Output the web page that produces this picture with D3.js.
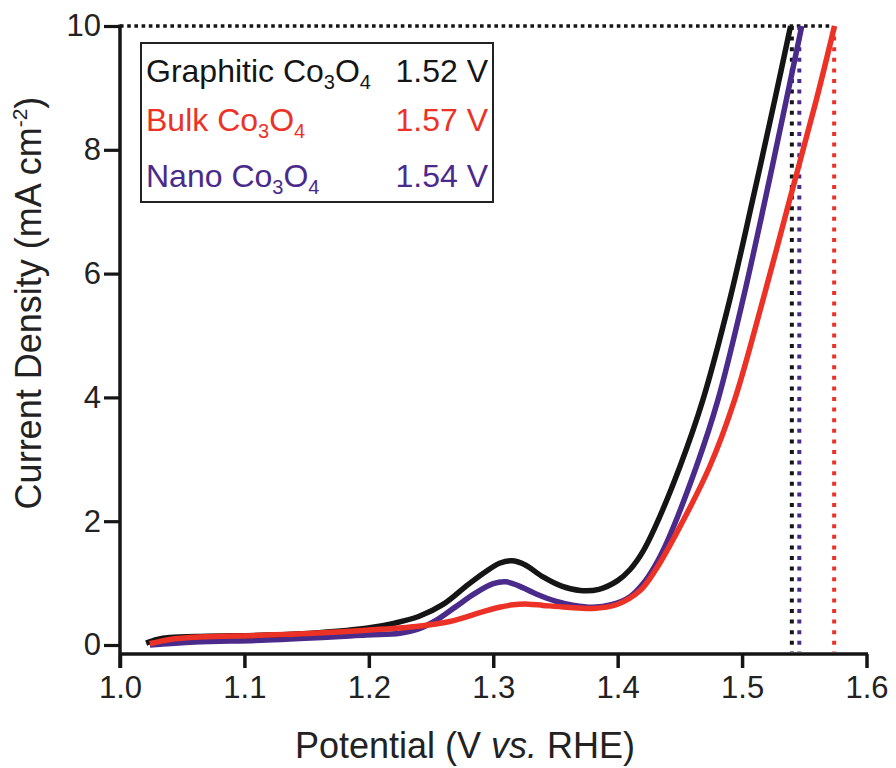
<!DOCTYPE html>
<html>
<head>
<meta charset="utf-8">
<script src="https://cdn.jsdelivr.net/npm/d3@7"></script>
<style>
  html, body { margin: 0; padding: 0; background: #fff; }
  svg { display: block; font-family: "Liberation Sans", Arial, Helvetica, sans-serif; }
</style>
</head>
<body>
<svg id="chart" width="896" height="768"></svg>
<script>
// ---------- DATA ----------
const seriesNames = ["Graphitic", "Bulk", "Nano"];
const onsetLabels = ["1.52 V", "1.57 V", "1.54 V"];
const xTicks = [1.0, 1.1, 1.2, 1.3, 1.4, 1.5, 1.6];
const yTicks = [0, 2, 4, 6, 8, 10];

// potential (V vs RHE) and current density (mA cm^-2)
const graphiticV = [1.021,1.03,1.04,1.07,1.118,1.16,1.198,1.22,1.24,1.26,1.28,1.295,1.305,1.315,1.325,1.34,1.355,1.37,1.385,1.40,1.41,1.42,1.43,1.45,1.4685,1.49,1.5085,1.5262,1.539];
const graphiticJ = [0.03,0.09,0.12,0.14,0.16,0.2,0.27,0.35,0.46,0.66,0.98,1.2,1.32,1.36,1.3,1.1,0.95,0.88,0.9,1.04,1.22,1.5,1.9,2.88,3.96,5.57,7.19,8.8,10];

const bulkV = [1.024,1.04,1.064,1.118,1.198,1.238,1.265,1.292,1.305,1.316,1.328,1.34,1.359,1.38,1.399,1.418,1.43,1.4471,1.4739,1.494,1.5167,1.5382,1.5596,1.5743];
const bulkJ = [0.02,0.09,0.13,0.16,0.24,0.3,0.38,0.54,0.61,0.65,0.66,0.64,0.61,0.59,0.65,0.88,1.2,1.8,2.88,3.96,5.57,7.19,8.8,10];

const nanoV = [1.024,1.06,1.118,1.198,1.225,1.24,1.255,1.27,1.285,1.30,1.31,1.32,1.335,1.35,1.365,1.38,1.395,1.41,1.42,1.43,1.44,1.4632,1.4806,1.5006,1.5185,1.5355,1.548];
const nanoJ = [0.0,0.05,0.08,0.16,0.19,0.26,0.41,0.62,0.83,0.99,1.02,0.96,0.82,0.71,0.64,0.61,0.65,0.78,0.98,1.28,1.68,2.88,3.96,5.57,7.19,8.8,10];

// dotted guide lines: potential where each curve reaches 10 mA cm^-2
const guideV = [1.540, 1.574, 1.546];
const guideJ = 10;

// ---------- LAYOUT ----------
const colors = ["#151515", "#ec3226", "#4a2a8a"];
const svg = d3.select("#chart");
const x = d3.scaleLinear().domain([1.0, 1.6]).range([120, 866.5]);
const y = d3.scaleLinear().domain([0, 10]).range([645, 26]);
const axisY = 654;      // x-axis line position
const tickLen = 14;

const series = [
  graphiticV.map((v, i) => [v, graphiticJ[i]]),
  bulkV.map((v, i) => [v, bulkJ[i]]),
  nanoV.map((v, i) => [v, nanoJ[i]])
];

// horizontal dotted line at 10 mA cm^-2
svg.append("line")
  .attr("x1", x(1.0)).attr("x2", x(d3.max(guideV)) - 3)
  .attr("y1", y(guideJ)).attr("y2", y(guideJ))
  .attr("stroke", "#151515").attr("stroke-width", 3.6)
  .attr("stroke-dasharray", "3.6,3.6");

// vertical dotted lines
svg.append("g").selectAll("line").data(guideV).join("line")
  .attr("x1", d => x(d)).attr("x2", d => x(d))
  .attr("y1", y(guideJ)).attr("y2", axisY - 2)
  .attr("stroke", (d, i) => colors[i]).attr("stroke-width", 4)
  .attr("stroke-dasharray", "4,6.6");

// curves
const line = d3.line().x(d => x(d[0])).y(d => y(d[1])).curve(d3.curveCatmullRom.alpha(0.5));
const drawOrder = [2, 0, 1];
svg.append("g").selectAll("path").data(drawOrder).join("path")
  .attr("d", i => line(series[i]))
  .attr("fill", "none")
  .attr("stroke", i => colors[i])
  .attr("stroke-width", 5.5)
  .attr("stroke-linecap", "butt")
  .attr("stroke-linejoin", "round");

// axes
const xAxis = d3.axisBottom(x).tickValues(xTicks).tickFormat(d3.format(".1f"))
  .tickSize(tickLen).tickSizeOuter(0).tickPadding(8);
const gx = svg.append("g").attr("transform", `translate(0,${axisY})`).call(xAxis);
gx.select(".domain").remove();
gx.selectAll(".tick line").attr("stroke", "#151515").attr("stroke-width", 3.5);
gx.selectAll(".tick text").attr("font-size", 31).attr("fill", "#222")
  .attr("font-family", "Liberation Sans, Arial, sans-serif");

const yAxis = d3.axisLeft(y).tickValues(yTicks).tickFormat(d3.format("d"))
  .tickSize(16).tickSizeOuter(0).tickPadding(3);
const gy = svg.append("g").attr("transform", `translate(${x(1.0)},0)`).call(yAxis);
gy.select(".domain").remove();
gy.selectAll(".tick line").attr("stroke", "#151515").attr("stroke-width", 3.2);
gy.selectAll(".tick text").attr("font-size", 31).attr("fill", "#222")
  .attr("font-family", "Liberation Sans, Arial, sans-serif");

// axis lines
svg.append("line").attr("x1", x(1.0)).attr("x2", x(1.6) + 1.5)
  .attr("y1", axisY).attr("y2", axisY)
  .attr("stroke", "#151515").attr("stroke-width", 3.5);
svg.append("line").attr("x1", x(1.0)).attr("x2", x(1.0))
  .attr("y1", y(10) - 1.5).attr("y2", axisY + tickLen)
  .attr("stroke", "#151515").attr("stroke-width", 3.5);

// axis titles
const xt = svg.append("text").attr("x", 465).attr("y", 758)
  .attr("text-anchor", "middle").attr("font-size", 36).attr("fill", "#222");
xt.append("tspan").text("Potential (V ");
xt.append("tspan").attr("font-style", "italic").text("vs.");
xt.append("tspan").text(" RHE)");

const yt = svg.append("text").attr("transform", "translate(41,303) rotate(-90)")
  .attr("text-anchor", "middle").attr("font-size", 36).attr("fill", "#222");
yt.append("tspan").text("Current Density (mA cm");
yt.append("tspan").attr("font-size", 21).attr("dy", -14).text("-2");
yt.append("tspan").attr("dy", 14).text(")");

// legend
svg.append("rect").attr("x", 141).attr("y", 43).attr("width", 352).attr("height", 159)
  .attr("fill", "#fff").attr("stroke", "#222").attr("stroke-width", 2);
const rowY = [82, 131, 187];
seriesNames.forEach((name, i) => {
  const t = svg.append("text").attr("x", 146).attr("y", rowY[i])
    .attr("font-size", 32).attr("fill", colors[i]);
  t.append("tspan").text(name + " Co");
  t.append("tspan").attr("font-size", 20).attr("dy", 7).text("3");
  t.append("tspan").attr("dy", -7).text("O");
  t.append("tspan").attr("font-size", 20).attr("dy", 7).text("4");
  svg.append("text").attr("x", 488).attr("y", rowY[i])
    .attr("text-anchor", "end").attr("font-size", 32).attr("fill", colors[i])
    .text(onsetLabels[i]);
});
</script>
</body>
</html>
